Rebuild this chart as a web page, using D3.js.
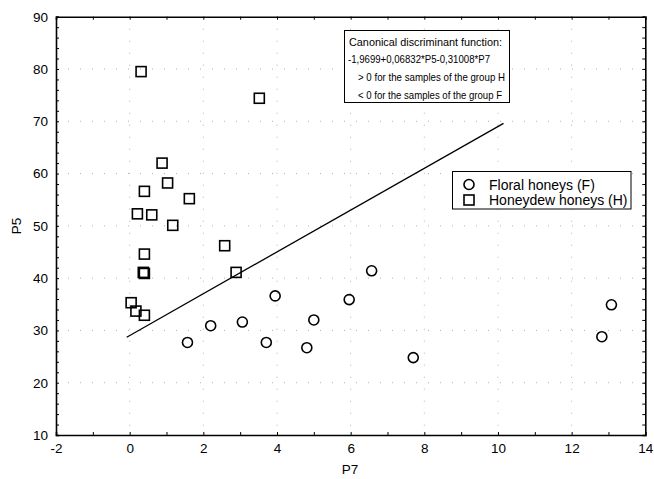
<!DOCTYPE html>
<html>
<head>
  <meta charset="utf-8">
  <script src="https://d3js.org/d3.v7.min.js"></script>
  <style>
    body{
      margin:0;
      background-color:#ffffff;
    }
    svg text{
      font-family: Arial, "Liberation Sans", sans-serif;
      fill:#000;
    }
  </style>
</head>
<body>
<div id="chart"></div>
<script>
  // honeydew honeys (H) - squares
  var honeydewP7 = [0.31, 3.52, 0.88, 1.03, 0.40, 1.62, 0.21, 0.60, 1.17, 2.58, 0.40, 0.37, 0.40, 2.89, 0.04, 0.17, 0.40]
  var honeydewP5 = [79.5, 74.4, 62.0, 58.2, 56.6, 55.2, 52.3, 52.1, 50.1, 46.2, 44.6, 41.1, 40.9, 41.1, 35.3, 33.7, 32.9]
  // floral honeys (F) - circles
  var floralP7 = [1.57, 2.20, 3.06, 3.95, 3.71, 4.81, 5.00, 5.96, 6.57, 7.70, 12.82, 13.08]
  var floralP5 = [27.7, 30.9, 31.6, 36.6, 27.7, 26.7, 32.0, 35.9, 41.4, 24.8, 28.8, 34.9]
  // discriminant line end points
  var lineP7 = [-0.08, 10.15]
  var lineP5 = [28.7, 69.6]

  var xTicks = [-2, 0, 2, 4, 6, 8, 10, 12, 14]
  var yTicks = [10, 20, 30, 40, 50, 60, 70, 80, 90]
  var noteLines = ["Canonical discriminant function:",
    "-1,9699+0,06832*P5-0,31008*P7",
    "> 0 for the samples of the group H",
    "< 0 for the samples of the group F"]
  var legendLabels = ["Floral honeys (F)", "Honeydew honeys (H)"]

  var width = 654
  var height = 479
  // plot frame (top is reserved on window, so use pLeft etc.)
  var pLeft = 56, pRight = 645.3, pTop = 16.7, pBottom = 435

  var xscale = d3.scaleLinear().domain([-2, 14]).range([pLeft, pRight])
  var yscale = d3.scaleLinear().domain([10, 90]).range([pBottom, pTop])

  var svg = d3.select("#chart").append("svg")
      .attr("width", width)
      .attr("height", height)
  svg.append("rect").attr("width", width).attr("height", height).attr("fill", "#fff")

  // faint dotted grid
  svg.append("g").selectAll("line")
      .data(xTicks.slice(1, -1))
      .enter().append("line")
      .attr("x1", function(d){ return xscale(d) }).attr("x2", function(d){ return xscale(d) })
      .attr("y1", pTop).attr("y2", pBottom)
      .attr("stroke", "#b0b0b0").attr("stroke-width", 1).attr("stroke-dasharray", "1,11")
  svg.append("g").selectAll("line")
      .data(yTicks.slice(1, -1))
      .enter().append("line")
      .attr("y1", function(d){ return yscale(d) }).attr("y2", function(d){ return yscale(d) })
      .attr("x1", pLeft).attr("x2", pRight)
      .attr("stroke", "#b0b0b0").attr("stroke-width", 1).attr("stroke-dasharray", "1,11")

  var minorX = d3.range(-2, 14.01, 1)
  var minorY = d3.range(10, 90.01, 2)
  function fmtX(d){ return (d % 2 == 0) ? d : "" }
  function fmtY(d){ return (d % 10 == 0) ? d : "" }

  svg.append("g").attr("transform", "translate(0," + pBottom + ")")
      .call(d3.axisBottom(xscale).tickValues(minorX).tickSize(-3).tickPadding(8).tickFormat(fmtX))
  svg.append("g").attr("transform", "translate(0," + pTop + ")")
      .call(d3.axisTop(xscale).tickValues(minorX).tickSize(-3).tickFormat(""))
  svg.append("g").attr("transform", "translate(" + pLeft + ",0)")
      .call(d3.axisLeft(yscale).tickValues(minorY).tickSize(-3).tickPadding(8).tickFormat(fmtY))
  svg.append("g").attr("transform", "translate(" + pRight + ",0)")
      .call(d3.axisRight(yscale).tickValues(minorY).tickSize(-3).tickFormat(""))

  svg.selectAll(".domain").attr("stroke", "#000").attr("stroke-width", 1.6)
  svg.selectAll(".tick line").attr("stroke", "#000").attr("stroke-width", 1)
  svg.selectAll(".tick text").style("font-size", "13.5px").attr("fill", "#000")

  // axis titles
  svg.append("text").attr("x", 350).attr("y", 474).attr("text-anchor", "middle")
      .style("font-size", "13.5px").text("P7")
  svg.append("text").attr("transform", "translate(21,226) rotate(-90)").attr("text-anchor", "middle")
      .style("font-size", "13.5px").text("P5")

  // discriminant line
  svg.append("line")
      .attr("x1", xscale(lineP7[0])).attr("y1", yscale(lineP5[0]))
      .attr("x2", xscale(lineP7[1])).attr("y2", yscale(lineP5[1]))
      .attr("stroke", "#000").attr("stroke-width", 1.3)

  // points
  svg.append("g").selectAll("circle")
      .data(floralP7)
      .enter().append("circle")
      .attr("cx", function(d){ return xscale(d) })
      .attr("cy", function(d, i){ return yscale(floralP5[i]) })
      .attr("r", 5)
      .attr("fill", "none").attr("stroke", "#000").attr("stroke-width", 1.6)
  svg.append("g").selectAll("rect")
      .data(honeydewP7)
      .enter().append("rect")
      .attr("x", function(d){ return xscale(d) - 5 })
      .attr("y", function(d, i){ return yscale(honeydewP5[i]) - 5 })
      .attr("width", 10).attr("height", 10)
      .attr("fill", "none").attr("stroke", "#000").attr("stroke-width", 1.6)

  // note box, text squeezed a bit so lines fit like the original
  var noteX = [349, 348, 358, 358]
  var noteLen = [153, 142, 147, 144]
  svg.append("rect").attr("x", 344.5).attr("y", 30.5).attr("width", 165).attr("height", 72)
      .attr("fill", "#fff").attr("stroke", "#000").attr("stroke-width", 1)
  svg.append("g").selectAll("text")
      .data(noteLines)
      .enter().append("text")
      .attr("x", function(d, i){ return noteX[i] })
      .attr("y", function(d, i){ return 45.5 + i * 17.8 })
      .attr("textLength", function(d, i){ return noteLen[i] })
      .attr("lengthAdjust", "spacingAndGlyphs")
      .style("font-size", "11.8px")
      .text(function(d){ return d })

  // legend
  svg.append("rect").attr("x", 452.5).attr("y", 171.5).attr("width", 178.5).attr("height", 37.5)
      .attr("fill", "#fff").attr("stroke", "#000").attr("stroke-width", 1)
  svg.append("circle").attr("cx", 469).attr("cy", 184.5).attr("r", 5)
      .attr("fill", "none").attr("stroke", "#000").attr("stroke-width", 1.6)
  svg.append("rect").attr("x", 464).attr("y", 195).attr("width", 10).attr("height", 10)
      .attr("fill", "none").attr("stroke", "#000").attr("stroke-width", 1.6)
  svg.append("g").selectAll("text")
      .data(legendLabels)
      .enter().append("text")
      .attr("x", 489).attr("y", function(d, i){ return 189.5 + i * 15.5 })
      .style("font-size", "14px")
      .text(function(d){ return d })
</script>
</body>
</html>
